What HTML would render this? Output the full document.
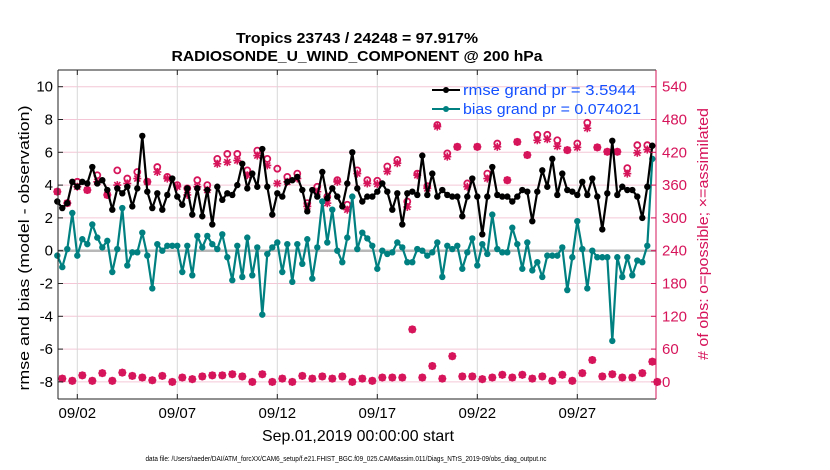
<!DOCTYPE html>
<html><head><meta charset="utf-8">
<style>
body{margin:0;background:#fff;}
svg{display:block;font-family:"Liberation Sans",sans-serif;}
</style></head>
<body>
<svg id="chart" width="830" height="470" viewBox="0 0 830 470">
<text x="357" y="43" text-anchor="middle" font-size="15" font-weight="bold" textLength="242" lengthAdjust="spacingAndGlyphs">Tropics 23743 / 24248 = 97.917%</text>
<text x="357" y="61" text-anchor="middle" font-size="15" font-weight="bold" textLength="371" lengthAdjust="spacingAndGlyphs">RADIOSONDE_U_WIND_COMPONENT @ 200 hPa</text>
<g id="grid"></g>
<g id="series"></g>
<g id="axes"></g>
<text transform="translate(29,248) rotate(-90)" text-anchor="middle" font-size="15" textLength="285" lengthAdjust="spacingAndGlyphs">rmse and bias (model - observation)</text>
<text transform="translate(708,234) rotate(-90)" text-anchor="middle" font-size="15" fill="#d6145a" textLength="252" lengthAdjust="spacingAndGlyphs"># of obs: o=possible; ×=assimilated</text>
<text x="358" y="441" text-anchor="middle" font-size="16" textLength="192" lengthAdjust="spacingAndGlyphs">Sep.01,2019 00:00:00 start</text>
<text x="346" y="461" text-anchor="middle" font-size="7" textLength="401" lengthAdjust="spacingAndGlyphs">data file: /Users/raeder/DAI/ATM_forcXX/CAM6_setup/f.e21.FHIST_BGC.f09_025.CAM6assim.011/Diags_NTrS_2019-09/obs_diag_output.nc</text>
<g>
<line x1="432" y1="90" x2="460" y2="90" stroke="#000" stroke-width="2"/>
<circle cx="446" cy="90" r="3" fill="#000"/>
<text x="463" y="95" font-size="15" fill="#1450ff" textLength="173" lengthAdjust="spacingAndGlyphs">rmse grand pr = 3.5944</text>
<line x1="432" y1="109" x2="460" y2="109" stroke="#008080" stroke-width="2"/>
<circle cx="446" cy="109" r="3" fill="#008080"/>
<text x="463" y="114" font-size="15" fill="#1450ff" textLength="178" lengthAdjust="spacingAndGlyphs">bias grand pr = 0.074021</text>
</g>
</svg>
<script>
const rmse=[3.0,2.6,2.9,4.2,3.9,4.2,4.1,5.1,4.1,4.3,3.7,2.5,3.8,3.5,3.9,2.7,3.8,7.0,3.6,2.6,3.5,2.5,3.4,4.4,3.3,2.8,3.8,2.2,3.8,2.1,3.7,1.6,3.9,3.1,3.5,3.4,4.0,5.3,3.8,4.7,3.9,6.2,3.9,2.2,3.5,3.3,4.2,4.3,4.5,3.7,2.4,3.7,3.3,4.8,3.2,3.8,3.3,2.7,4.1,6.0,3.8,
3.0,3.3,3.3,3.6,4.1,3.6,2.5,3.5,1.6,3.5,3.6,3.4,5.8,3.4,4.7,3.3,3.7,3.4,3.3,3.3,2.1,3.3,4.4,3.3,1.0,3.3,5.1,3.4,3.3,3.3,3.0,3.3,3.7,3.6,1.8,3.6,4.9,3.9,5.6,3.4,4.7,3.7,3.6,3.4,4.2,3.4,4.4,3.3,1.3,3.5,6.7,3.4,3.9,3.7,3.7,3.3,2.0,3.9,6.4];
const bias=[-0.3,-1.0,0.1,2.3,-0.3,0.7,0.4,1.6,0.8,0.2,0.6,-1.3,0.1,2.6,-0.9,-0.1,-0.1,1.1,-0.3,-2.3,0.4,0.0,0.3,0.3,0.3,-1.3,0.3,-1.5,0.9,0.2,0.9,0.4,0.1,1.0,-0.4,-1.8,0.3,-1.6,0.8,-1.5,0.2,-3.9,-0.2,0.2,0.5,-1.3,0.4,-1.9,0.4,-0.8,0.7,-1.7,0.2,3.0,0.5,2.5,0.0,-0.7,0.8,3.3,0.1,
1.1,0.75,0.3,-1.1,0.0,-0.2,-0.1,0.5,0.2,-0.7,-0.7,0.1,0.0,-0.3,-0.1,0.5,-1.6,0.3,0.1,0.3,-1.1,-0.1,0.75,-0.9,0.4,-0.2,2.2,0.1,-0.1,-0.1,1.4,0.4,-1.1,0.5,-1.2,-0.7,-1.6,-0.3,-0.3,-0.3,0.2,-2.4,-0.4,1.8,0.1,-2.3,0.0,-0.4,-0.4,-0.4,-5.5,-0.4,-1.6,-0.4,-1.5,-0.6,-0.7,0.3,5.6];
const obsPossible=[348,6,327,2,366,12,351,2,378,16,342,2,387,17,372,11,384,8,366,3,393,11,375,0,360,8,354,5,369,10,360,12,408,12,417,14,417,10,387,0,423,14,408,0,390,6,375,0,381,11,327,6,357,10,339,6,369,10,324,0,387,
6,369,2,368,8,394,8,406,8,330,96,381,8,358,29,470,6,418,47,430,10,363,10,430,5,381,8,436,13,369,8,439,13,415,6,452,10,452,2,442,13,424,2,436,16,474,40,429,10,421,14,421,8,391,8,433,16,433,37,0];
const obsAssim=[348,6,327,2,357,12,351,2,366,16,342,2,360,17,363,11,372,8,366,3,384,11,372,0,357,8,342,5,357,10,351,12,399,12,402,14,405,10,378,0,414,14,396,0,363,6,366,0,372,11,321,6,348,10,327,6,366,10,315,0,381,
6,363,2,362,8,385,8,400,8,320,96,378,8,354,29,467,6,412,47,430,10,357,10,430,5,372,8,430,13,369,8,439,13,415,6,442,10,444,2,431,13,424,2,429,16,464,40,429,10,421,14,421,8,381,8,419,16,425,37,0];
const leftTicks=[-8,-6,-4,-2,0,2,4,6,8,10];
const rightTicks=[0,60,120,180,240,300,360,420,480,540];
const dateTicks=[1,6,11,16,21,26];
const dateLabels=["09/02","09/07","09/12","09/17","09/22","09/27"];

const L=58,R=656,T=70,B=399;
const X=d=>57.3+20*d;
const tOf=i=>i*0.25;
const Y=v=>250.7-16.4*v;
const YR=n=>Y(n/30-8);
const NS='http://www.w3.org/2000/svg';
function mk(tag,attrs,parent){const e=document.createElementNS(NS,tag);for(const k in attrs)e.setAttribute(k,attrs[k]);parent.appendChild(e);return e;}
const grid=document.getElementById('grid'),ser=document.getElementById('series'),ax=document.getElementById('axes');

leftTicks.forEach(v=>{
  const g=mk('line',{x1:L,x2:R,y1:Y(v),y2:Y(v),stroke:'#f4c6d6','stroke-width':1},grid);
  
  
  const t=mk('text',{x:L-5,y:Y(v)+5,'text-anchor':'end','font-size':15},ax);
  t.textContent=v;
  
  
  mk('line',{x1:L,x2:L+5,y1:Y(v),y2:Y(v),stroke:'#222'},ax);
});
rightTicks.forEach(n=>{
  const t=mk('text',{x:R+6,y:YR(n)+5,'font-size':15,fill:'#d6145a'},ax);
  t.textContent=n;
  
  
  mk('line',{x1:R-5,x2:R,y1:YR(n),y2:YR(n),stroke:'#d6145a'},ax);
});
dateTicks.forEach((d,k)=>{
  const g=mk('line',{x1:X(d),x2:X(d),y1:T,y2:B,stroke:'#d8d8d8','stroke-width':1},grid);
  
  
  mk('line',{x1:X(d),x2:X(d),y1:T,y2:T+5,stroke:'#222'},ax);
  mk('line',{x1:X(d),x2:X(d),y1:B-5,y2:B,stroke:'#222'},ax);
  const t=mk('text',{x:X(d),y:418,'text-anchor':'middle','font-size':15},ax);
  t.textContent=dateLabels[k];
  
  
});
const z=mk('line',{x1:L,x2:R,y1:Y(0),y2:Y(0),stroke:'#b8b8b8','stroke-width':2.5},grid);



function star(cx,cy,parent){
  const g=mk('g',{stroke:'#d6145a','stroke-width':1.6},parent);
  const s=4;
  mk('line',{x1:cx-s,x2:cx+s,y1:cy,y2:cy},g);
  mk('line',{x1:cx,x2:cx,y1:cy-s,y2:cy+s},g);
  mk('line',{x1:cx-3,x2:cx+3,y1:cy-3,y2:cy+3},g);
  mk('line',{x1:cx-3,x2:cx+3,y1:cy+3,y2:cy-3},g);
  return g;
}
obsPossible.forEach((n,i)=>{
  const c=mk('circle',{cx:X(tOf(i)),cy:YR(n),r:3,fill:'none',stroke:'#d6145a','stroke-width':1.8},ser);
  
  
});
obsAssim.forEach((n,i)=>{
  const g=star(X(tOf(i)),YR(n),ser);
  
  
});
function line(vals,color,name){
  const p=mk('polyline',{points:vals.map((v,i)=>X(tOf(i))+','+Y(v)).join(' '),fill:'none',stroke:color,'stroke-width':2.2,'stroke-linejoin':'round'},ser);
  
  
  vals.forEach((v,i)=>{
    const c=mk('circle',{cx:X(tOf(i)),cy:Y(v),r:3.2,fill:color},ser);
    
    
  });
}
line(bias,'#008080','bias');
line(rmse,'#000000','rmse');

mk('line',{x1:L,x2:R,y1:T,y2:T,stroke:'#222'},ax);
mk('line',{x1:L,x2:R,y1:B,y2:B,stroke:'#222'},ax);
mk('line',{x1:L,x2:L,y1:T,y2:B,stroke:'#222'},ax);
mk('line',{x1:R,x2:R,y1:T,y2:B,stroke:'#d6145a'},ax);
</script>
</body></html>
